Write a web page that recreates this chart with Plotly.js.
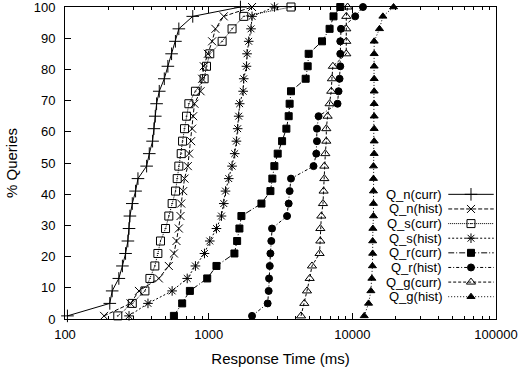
<!DOCTYPE html>
<html>
<head>
<meta charset="utf-8">
<script src="https://cdn.plot.ly/plotly-3.0.1.min.js"></script>
<style>html,body{margin:0;padding:0;background:#fff;}#chart{width:521px;height:369px;}</style>
</head>
<body>
<div id="chart"></div>
<script>
// Cumulative % of queries (y) for each series
var pctLevels = [1, 5, 9, 13, 17, 21, 25, 29, 33, 37, 41, 45, 49, 53, 57, 61, 65, 69, 73, 77, 81, 85, 89, 93, 97, 100];

// Response times (ms) per series, one per pctLevel
var qnCurr = [104, 205, 213, 237, 251, 264, 274, 279, 283, 294, 310, 322, 370, 386, 407, 416, 425, 434, 453, 491, 520, 552, 587, 620, 775, 1664];
var qnHist = [187, 286, 327, 450, 528, 573, 597, 620, 637, 644, 665, 679, 716, 731, 755, 767, 780, 796, 878, 901, 925, 987, 1057, 1114, 1273, 2004];
var qsCurr = [233, 294, 360, 390, 422, 443, 462, 501, 528, 557, 588, 604, 620, 644, 658, 679, 701, 728, 809, 930, 966, 1018, 1241, 1455, 1754, 3741];
var qsHist = [279, 378, 557, 709, 809, 935, 1018, 1133, 1228, 1274, 1310, 1380, 1455, 1518, 1560, 1592, 1618, 1644, 1738, 1754, 1832, 1850, 1900, 1972, 2004, 2870];
var qrCurr = [573, 654, 740, 977, 1133, 1511, 1578, 1637, 1690, 2330, 2690, 2775, 2866, 3023, 3244, 3475, 3605, 3661, 3741, 4733, 4889, 4966, 6152, 6944, 7394, 8243];
var qrHist = [2004, 2574, 2616, 2632, 2662, 2690, 2729, 2761, 3513, 3605, 3661, 3741, 5370, 5610, 5673, 5673, 5821, 7889, 8017, 8150, 8243, 8243, 8243, 8334, 10470, 11860];
var qgCurr = [4395, 4631, 4833, 5047, 5236, 5916, 5986, 5986, 6084, 6248, 6310, 6384, 6384, 6487, 6590, 6590, 6730, 6944, 7134, 7208, 7321, 9076, 9076, 9076, 9076, 9268];
var qgHist = [12100, 12970, 13460, 13680, 13800, 13850, 13850, 13900, 14030, 14030, 14030, 14030, 14030, 14190, 14190, 14190, 14190, 14190, 14190, 14190, 14190, 14190, 14190, 15450, 16320, 19360];

var seriesNames = ['Q_n(curr)', 'Q_n(hist)', 'Q_s(curr)', 'Q_s(hist)', 'Q_r(curr)', 'Q_r(hist)', 'Q_g(curr)', 'Q_g(hist)'];
var seriesData = [qnCurr, qnHist, qsCurr, qsHist, qrCurr, qrHist, qgCurr, qgHist];

var xTickVals = [100, 1000, 10000, 100000];
var xTickText = ['100', '1000', '10000', '100000'];
var yTickVals = [0, 10, 20, 30, 40, 50, 60, 70, 80, 90, 100];

// styles
var styles = [
  {dash: 'solid', symbol: 'cross-thin-open', size: 9},
  {dash: '4px,2px', symbol: 'x-thin-open', size: 8},
  {dash: '1px,1px', symbol: 'square-open-dot', size: 8},
  {dash: '2px,2px', symbol: 'asterisk-open', size: 8},
  {dash: '6px,2px,1px,2px', symbol: 'square', size: 7},
  {dash: '3px,2px,1px,2px', symbol: 'circle', size: 7},
  {dash: '3px,2px', symbol: 'triangle-up-open', size: 8},
  {dash: '1px,2px', symbol: 'triangle-up', size: 7}
];

var traces = [];
seriesData.forEach(function (d, i) {
  var s = styles[i];
  traces.push({
    type: 'scatter', mode: 'lines+markers', name: seriesNames[i],
    x: d, y: pctLevels, showlegend: false, cliponaxis: false,
    line: {color: '#000', width: 1, dash: s.dash},
    marker: {symbol: s.symbol, size: s.size, color: '#000', line: {color: '#000', width: 1}}
  });
});

// custom legend keys (text left, key right)
var annotations = [];
seriesNames.forEach(function (nm, i) {
  var s = styles[i];
  traces.push({
    type: 'scatter', mode: 'lines', x: [0, 1], y: [i, i], xaxis: 'x2', yaxis: 'y2',
    showlegend: false, hoverinfo: 'skip',
    line: {color: '#000', width: 1, dash: s.dash}
  });
  traces.push({
    type: 'scatter', mode: 'markers', x: [0.5], y: [i], xaxis: 'x2', yaxis: 'y2',
    showlegend: false, hoverinfo: 'skip',
    marker: {symbol: s.symbol, size: s.size, color: '#000', line: {color: '#000', width: 1}}
  });
  annotations.push({
    xref: 'paper', yref: 'y2', x: 0.877, y: i, xanchor: 'right', yanchor: 'middle',
    text: nm, showarrow: false, font: {size: 13, color: '#000'}, borderpad: 0
  });
});

var minorVals = [];
[100, 1000, 10000].forEach(function (dec) {
  for (var k = 2; k <= 9; k++) minorVals.push(dec * k);
});

var layout = {
  width: 521, height: 369,
  margin: {l: 65, r: 25, t: 7, b: 50},
  paper_bgcolor: '#fff', plot_bgcolor: 'rgba(0,0,0,0)',
  font: {family: 'Liberation Sans, Arial, sans-serif', size: 13, color: '#000'},
  showlegend: false,
  xaxis: {
    type: 'log', range: [2, 5], tickmode: 'array', tickvals: xTickVals, ticktext: xTickText,
    ticks: 'inside', ticklen: 6, tickcolor: '#000', tickwidth: 1,
    showline: true, linecolor: '#000', linewidth: 1, mirror: 'ticks',
    showgrid: false, zeroline: false, ticklabelstandoff: 3,
    minor: {tickmode: 'array', tickvals: minorVals, ticks: 'inside', ticklen: 3, tickcolor: '#000', showgrid: false},
    tickfont: {size: 13},
    title: {text: 'Response Time (ms)', font: {size: 15}, standoff: 12}
  },
  yaxis: {
    range: [0, 100], tickmode: 'array', tickvals: yTickVals,
    ticks: 'inside', ticklen: 6, tickcolor: '#000', tickwidth: 1,
    showline: true, linecolor: '#000', linewidth: 1, mirror: true,
    showgrid: false, zeroline: false, ticklabeloverflow: 'allow',
    tickfont: {size: 13}, ticklabelstandoff: 6,
    title: {text: '% Queries', font: {size: 15}, standoff: 12}
  },
  xaxis2: {domain: [0.889, 0.995], range: [0, 1], visible: false, anchor: 'y2', fixedrange: true},
  yaxis2: {domain: [0.048, 0.423], range: [7.5, -0.5], visible: false, anchor: 'x2', fixedrange: true},
  annotations: annotations
};

Plotly.newPlot('chart', traces, layout, {staticPlot: true, displayModeBar: false});
</script>
</body>
</html>
